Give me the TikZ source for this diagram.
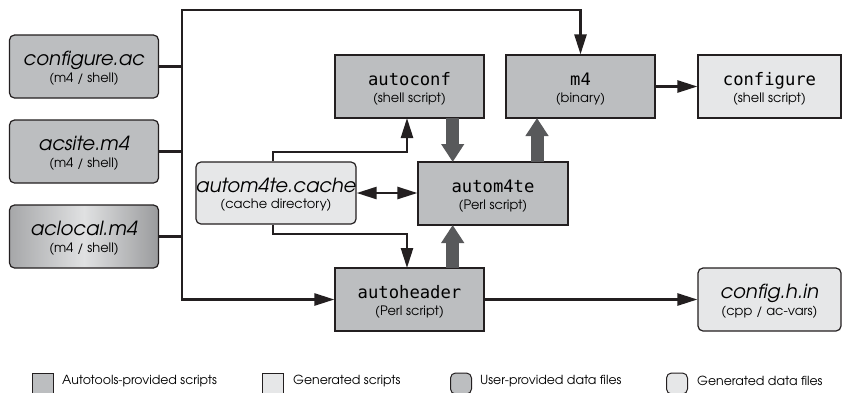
\documentclass[tikz,border=0pt]{standalone}
\usepackage{fontspec}
\setmainfont{texgyreadventor-regular.otf}[ItalicFont=texgyreadventor-italic.otf,BoldFont=texgyreadventor-bold.otf]
\setmonofont{DejaVu Sans Mono}
\usetikzlibrary{arrows.meta}
\definecolor{linec}{HTML}{231F20}
\definecolor{toolgray}{HTML}{BCBEC0}
\definecolor{genlight}{HTML}{E6E7E8}
\definecolor{fatgray}{HTML}{58595B}
\definecolor{aclL}{HTML}{A6A7A9}
\definecolor{aclM}{HTML}{E0E1E2}
\definecolor{aclR}{HTML}{9A9B9D}
\newcommand{\mytt}[1]{{\fontsize{17.2}{17.2}\selectfont\ttfamily #1}}
\newcommand{\myit}[1]{{\fontsize{19.5}{19.5}\selectfont\itshape #1}}
\begin{document}
\begin{tikzpicture}[x=1pt,y=-1pt,
  box/.style={draw=linec, line width=1.2pt, minimum width=149pt, minimum height=63pt,
    inner sep=0pt, align=center, text height=35pt, text depth=4pt,
    font=\fontsize{13}{16.5}\selectfont},
  tool/.style={box, fill=toolgray},
  gen/.style={box, fill=genlight},
  user/.style={box, rounded corners=5pt, fill=toolgray},
  gendata/.style={box, rounded corners=5pt, fill=genlight},
  conn/.style={line width=2.5pt, draw=linec},
  arr/.style={conn, -{Triangle[length=20pt,width=12pt]}},
  darr/.style={conn, {Triangle[length=20pt,width=12pt]}-{Triangle[length=20pt,width=12pt]}},
  fat/.style={line width=13pt, draw=fatgray, -{Triangle[length=18pt,width=22pt]}},
  legbox/.style={draw=linec, line width=1pt, minimum width=21pt, minimum height=21pt, inner sep=0pt},
  legtext/.style={anchor=west, inner sep=0pt, font=\fontsize{12.5}{14}\selectfont},
]
\useasboundingbox[fill=white] (0,0) rectangle (842,392);

% data files
\node[user] (confac) at (84,66.5) {\myit{configure.ac}\\(m4 / shell)};
\node[user] (acsite) at (84,151.5) {\myit{acsite.m4}\\(m4 / shell)};
\node[box, rounded corners=5pt, left color=aclL, right color=aclR, middle color=aclM] (aclocal) at (84,236.5) {\myit{aclocal.m4}\\(m4 / shell)};

% tools
\node[tool] (autoconf) at (409.5,86.5) {\mytt{autoconf}\\(shell script)};
\node[tool] (m4) at (580.5,86.5) {\mytt{m4}\\(binary)};
\node[gen, minimum width=143pt] (configure) at (769.5,86.5) {\mytt{configure}\\(shell script)};
\node[gendata, minimum width=148pt, minimum height=62pt] (cache) at (276,193) {\myit{autom4te.cache}\\(cache directory)};
\node[tool, minimum width=150pt] (autom4te) at (493,193.5) {\mytt{autom4te}\\(Perl script)};
\node[tool] (autoheader) at (409.5,299.5) {\mytt{autoheader}\\(Perl script)};
\node[gendata, minimum width=143pt] (confighin) at (769.5,299.5) {\myit{config.h.in}\\(cpp / ac-vars)};

% bus
\coordinate (bustop) at (182,10);
\coordinate (busbot) at (182,299.5);
\draw[conn] (confac.east) -- (confac.east -| bustop);
\draw[conn] (acsite.east) -- (acsite.east -| bustop);
\draw[conn] (aclocal.east) -- (aclocal.east -| bustop);
\draw[arr] (busbot) -- (bustop) -- (bustop -| m4.north) -- (m4.north);
\draw[arr] (bustop) -- (busbot) -- (autoheader.west);

% cache connections
\coordinate (cup) at (273,152);
\coordinate (cdn) at (273,234);
\draw[arr] (cup |- cache.north) -- (cup) -- (407,152) -- (407,118);
\draw[arr] (cdn |- cache.south) -- (cdn) -- (407,234) -- (407,268);
\draw[darr] (cache.east) -- (cache.east -| autom4te.west);

% outputs
\draw[arr] (m4.east) -- (configure.west);
\draw[arr] (autoheader.east) -- (confighin.west);

% fat arrows
\draw[fat] (452.7,118) -- (452.7,162);
\draw[fat] (537,162) -- (537,118);
\draw[fat] (452.7,268) -- (452.7,225);

% legend
\node[legbox, fill=toolgray] (l1) at (42.5,383.5) {};
\node[legtext] (t1) at (62,381) {Autotools-provided scripts};
\node[legbox, fill=genlight] (l2) at (273,383.5) {};
\node[legtext] (t2) at (293,381) {Generated scripts};
\node[legbox, fill=toolgray, rounded corners=5pt] (l3) at (461,383.5) {};
\node[legtext] (t3) at (480,381) {User-provided data files};
\node[legbox, fill=genlight, rounded corners=5pt] (l4) at (677,383.5) {};
\node[legtext] (t4) at (697,381) {Generated data files};
\end{tikzpicture}
\end{document}
